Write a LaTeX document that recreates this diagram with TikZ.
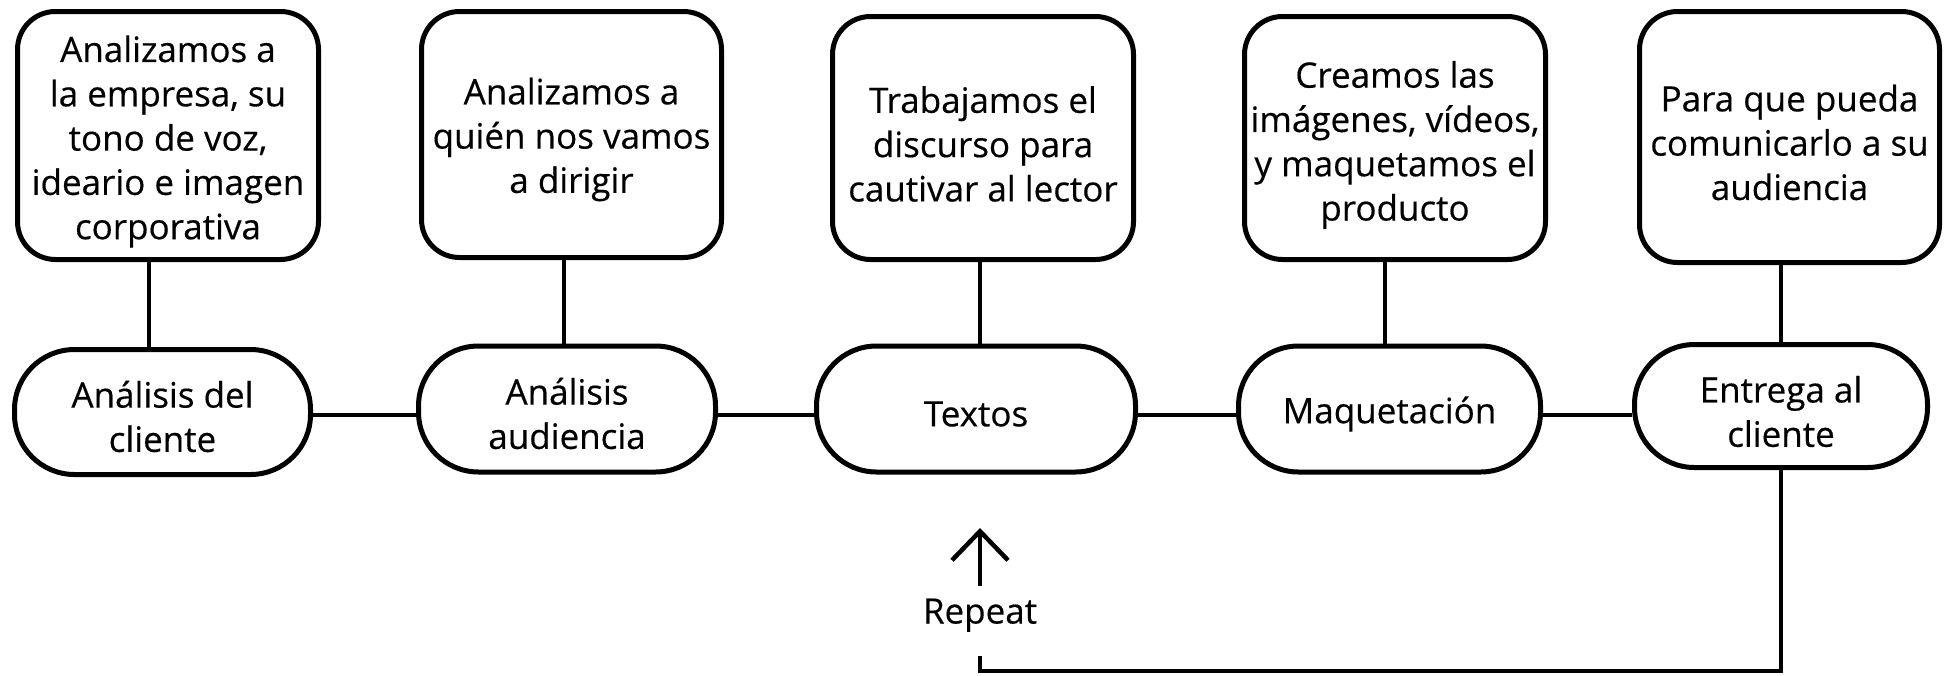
\documentclass[tikz,border=0pt]{standalone}
\usepackage{fontspec}
\setmainfont{Open Sans}[FakeBold=0.4]
\usetikzlibrary{arrows.meta}
\begin{document}
\begin{tikzpicture}[x=1pt,y=-1pt,
  txt/.style={font=\fontsize{35}{44.3}\selectfont, align=center, inner sep=0pt},
  box/.style={draw, line width=5pt, rounded corners=38pt, inner sep=0pt},
  pill/.style={draw, line width=5pt, rounded corners=60pt, inner sep=0pt},
  conn/.style={line width=4.5pt},
  tip/.style={-{Straight Barb[length=29pt,width=56pt,line width=4.5pt]}}]
\useasboundingbox (0,0) rectangle (1957,675);
% top boxes
\node[box, minimum width=301pt, minimum height=248pt] (t1) at (168,135.5) {};
\node[txt, yshift=-6pt] (t1x) at (t1) {Analizamos a\\la empresa, su\\tono de voz,\\ideario e imagen\\corporativa};
\node[box, minimum width=300pt, minimum height=246pt] (t2) at (571.5,134.5) {};
\node[txt, yshift=-5pt] (t2x) at (t2) {Analizamos a\\quién nos vamos\\a dirigir};
\node[box, minimum width=301pt, minimum height=243pt] (t3) at (983,138) {};
\node[txt, yshift=-6pt] (t3x) at (t3) {Trabajamos el\\discurso para\\cautivar al lector};
\node[box, minimum width=301pt, minimum height=243pt] (t4) at (1395,138) {};
\node[txt, yshift=-7pt] (t4x) at (t4) {Creamos las\\imágenes, vídeos,\\y maquetamos el\\producto};
\node[box, minimum width=300pt, minimum height=251pt] (t5) at (1789.5,137) {};
\node[txt, yshift=-5.5pt] (t5x) at (t5) {Para que pueda\\comunicarlo a su\\audiencia};
% pills
\node[pill, minimum width=296pt, minimum height=125pt] (s1) at (162.5,412) {};
\node[txt, yshift=-4.5pt] (s1x) at (s1) {Análisis del\\cliente};
\node[pill, minimum width=297pt, minimum height=126pt] (s2) at (567,409) {};
\node[txt, yshift=-4.5pt] (s2x) at (s2) {Análisis\\audiencia};
\node[pill, minimum width=319pt, minimum height=126pt] (s3) at (976,409) {};
\node[txt, yshift=-5pt] (s3x) at (s3) {Textos};
\node[pill, minimum width=302pt, minimum height=126pt] (s4) at (1389.5,409) {};
\node[txt, yshift=-5pt] (s4x) at (s4) {Maquetación};
\node[pill, minimum width=293pt, minimum height=123pt] (s5) at (1781,406) {};
\node[txt, yshift=-5.5pt] (s5x) at (s5) {Entrega al\\cliente};
% vertical connectors
\draw[conn] (t1.south -| 149,0) -- (s1.north -| 149,0);
\draw[conn] (t2.south -| 564,0) -- (s2.north -| 564,0);
\draw[conn] (t3.south -| 980,0) -- (s3.north -| 980,0);
\draw[conn] (t4.south -| 1385,0) -- (s4.north -| 1385,0);
\draw[conn] (t5.south -| 1781,0) -- (s5.north -| 1781,0);
% horizontal connectors
\draw[conn] (s1.east |- 0,415) -- (s2.west |- 0,415);
\draw[conn] (s2.east |- 0,415) -- (s3.west |- 0,415);
\draw[conn] (s3.east |- 0,415) -- (s4.west |- 0,415);
\draw[conn] (s4.east |- 0,415) -- (s5.west |- 0,415);
% repeat loop
\node[txt, text height=24pt, text depth=8pt] (rep) at (980,615.5) {Repeat};
\coordinate (arrowtip) at (980,528);
\draw[conn, line cap=butt] (s5.south -| 1781,0) -- (1781,671) -| (rep.south) [shorten >=24pt];
\draw[conn, tip] ([yshift=13pt]rep.north) -- (arrowtip);
\end{tikzpicture}
\end{document}
